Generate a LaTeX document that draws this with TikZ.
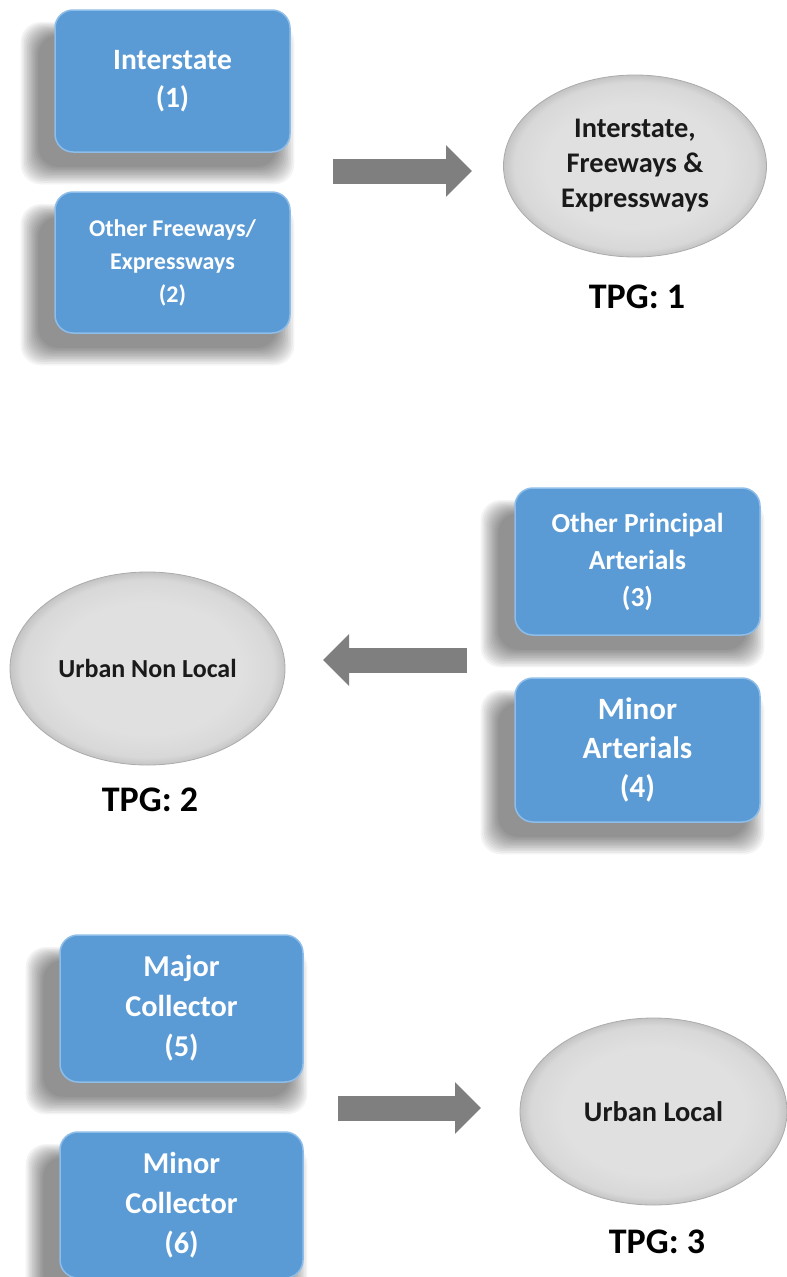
\documentclass[tikz,border=0pt]{standalone}
\usepackage{fontspec}
\setmainfont{Carlito}
\usetikzlibrary{arrows.meta,shapes.geometric,calc,backgrounds}
\definecolor{boxblue}{HTML}{5B9BD5}
\definecolor{boxedge}{HTML}{8DBDE8}
\definecolor{arrowgray}{HTML}{7F7F7F}
\definecolor{ballin}{HTML}{E0E0E0}
\definecolor{ballmid}{HTML}{D8D8D8}
\definecolor{ballout}{HTML}{C4C4C4}
\definecolor{ballrim}{HTML}{ABABAB}
\definecolor{dtext}{HTML}{1A1A1A}
\pgfdeclareradialshading{ballgray}{\pgfpoint{0bp}{0bp}}{color(0bp)=(ballin); color(17bp)=(ballin); color(23bp)=(ballmid); color(25bp)=(ballout); color(50bp)=(ballout)}
\newcommand\myshadow[1]{%
  \foreach \k in {0,...,11}{%
    \fill[black, opacity=0.042, rounded corners=20pt]
      ($(#1.north west)+({-16-\k*1.6},{26-\k*1.2})$) rectangle
      ($(#1.south east)+({-14+\k*1.6},{14+\k*1.6})$);
  }}
\begin{document}
\begin{tikzpicture}[x=1pt,y=-1pt,
  rbox/.style={rectangle, rounded corners=18pt, fill=boxblue, draw=boxedge, line width=1.5pt,
    text=white, align=center, inner sep=0pt},
  ball/.style={ellipse, shading=ballgray, draw=ballrim, line width=0.8pt, text=dtext,
    align=center, inner sep=0pt},
  tpg/.style={text=black, font=\bfseries\fontsize{36}{40}\selectfont, inner sep=0pt},
  bigarrow/.style={draw=arrowgray, line width=25pt, -{Triangle[length=26pt,width=50pt]}}
]
\useasboundingbox (0,0) rectangle (787,1277);

% --- group 1
\node[rbox, minimum width=235pt, minimum height=142pt,
  font=\bfseries\fontsize{29.5}{38}\selectfont] (b1) at (172.5,81) {Interstate\\(1)};
\node[rbox, minimum width=235pt, minimum height=141pt,
  font=\bfseries\fontsize{24}{33}\selectfont] (b2) at (172.5,262.5) {Other Freeways/\\Expressways\\(2)};
\node[ball, minimum width=263pt, minimum height=182pt,
  font=\bfseries\fontsize{28.4}{35}\selectfont] (e1) at (635,166)
  {Interstate,\\Freeways \&\\Expressways};
\node[tpg] (t1) at (637,297) {TPG: 1};
\coordinate (a1s) at (333,171);
\coordinate (a1e) at (472,171);
\draw[bigarrow] (a1s) -- (a1e);

% --- group 2
\node[rbox, minimum width=245pt, minimum height=147pt,
  font=\bfseries\fontsize{27.5}{37}\selectfont] (b3) at (637.5,561.5) {Other Principal\\Arterials\\(3)};
\node[rbox, minimum width=245pt, minimum height=144pt,
  font=\bfseries\fontsize{31}{39}\selectfont] (b4) at (637.5,750) {Minor\\Arterials\\(4)};
\node[ball, minimum width=275pt, minimum height=193pt,
  font=\bfseries\fontsize{26}{35}\selectfont] (e2) at (147.5,668.5) {Urban Non Local};
\node[tpg] (t2) at (150,800) {TPG: 2};
\coordinate (a2s) at (467,660);
\coordinate (a2e) at (323,660);
\draw[bigarrow] (a2s) -- (a2e);

% --- group 3
\node[rbox, minimum width=243pt, minimum height=147pt,
  font=\bfseries\fontsize{30.3}{40}\selectfont] (b5) at (181.5,1008.5) {Major\\Collector\\(5)};
\node[rbox, minimum width=243pt, minimum height=146pt,
  font=\bfseries\fontsize{30.3}{40}\selectfont] (b6) at (181.5,1205) {Minor\\Collector\\(6)};
\node[ball, minimum width=267pt, minimum height=187pt,
  font=\bfseries\fontsize{28.4}{35}\selectfont] (e3) at (653.5,1111.5) {Urban Local};
\node[tpg] (t3) at (657,1242) {TPG: 3};
\coordinate (a3s) at (338,1108);
\coordinate (a3e) at (481,1108);
\draw[bigarrow] (a3s) -- (a3e);

\begin{scope}[on background layer]
  \fill[white] (0,0) rectangle (787,1277);
  \foreach \n in {b1,b2,b3,b4,b5,b6}{\myshadow{\n}}
\end{scope}
\end{tikzpicture}
\end{document}
